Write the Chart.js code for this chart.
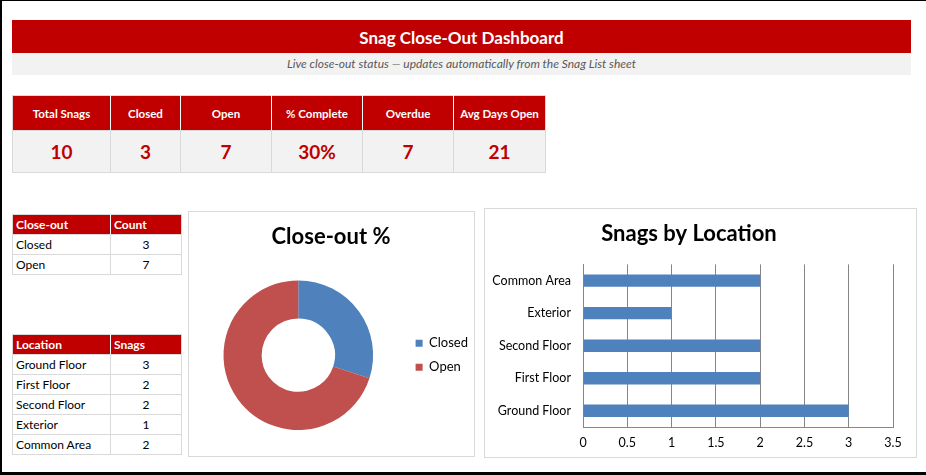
<!DOCTYPE html>
<html>
<head>
<meta charset="utf-8">
<script src="https://cdn.jsdelivr.net/npm/chart.js@4.4.1/dist/chart.umd.min.js"></script>
<style>
  html,body{margin:0;padding:0;background:#fff;}
  body{width:926px;height:475px;position:relative;overflow:hidden;font-family:Lato,"Open Sans",sans-serif;}
  .frameL{position:absolute;left:0;top:0;width:2px;height:475px;background:#000;}
  .frameT{position:absolute;left:0;top:0;width:926px;height:1px;background:#000;}
  .frameB{position:absolute;left:0;top:472px;width:926px;height:3px;background:#000;}
  .titlebar{position:absolute;left:12px;top:20px;width:899px;height:33px;background:#C00000;color:#fff;font-weight:bold;font-size:17px;line-height:35px;text-align:center;}
  .subbar{position:absolute;left:12px;top:53px;width:899px;height:22px;background:#F2F2F2;color:#595959;font-style:italic;font-size:12px;line-height:22px;text-align:center;}
  table{border-collapse:collapse;position:absolute;}
  .kpi{left:12px;top:95px;}
  .kpi th{background:#C00000;color:#fff;font-size:11.5px;font-weight:bold;height:34px;padding:0;border:1px solid #D9D9D9;border-left-color:#fff;border-right-color:#fff;text-align:center;}
  .kpi th:first-child{border-left-color:#D9D9D9;}
  .kpi th:last-child{border-right-color:#D9D9D9;}
  .kpi td{background:#F2F2F2;color:#C00000;font-size:19px;font-weight:bold;height:41px;padding:0;border:1px solid #D9D9D9;text-align:center;}
  .small th{background:#C00000;color:#fff;font-size:12px;font-weight:bold;text-align:left;height:19px;padding:0 0 0 3px;border:1px solid #D9D9D9;border-right-color:#fff;}
  .small th:last-child{border-right-color:#D9D9D9;}
  .small td{font-size:12px;color:#000;height:19px;padding:0 0 0 3px;border:1px solid #D9D9D9;}
  .small td.n{text-align:center;padding:0;}
  .box{position:absolute;border:1px solid #D9D9D9;box-sizing:border-box;background:#fff;}
  .box canvas{position:absolute;left:0;top:0;}
</style>
</head>
<body>
<div class="frameL"></div><div class="frameT"></div><div class="frameB"></div>
<div class="titlebar">Snag Close-Out Dashboard</div>
<div class="subbar">Live close-out status — updates automatically from the Snag List sheet</div>

<table class="kpi" id="kpi"></table>
<table class="small" id="closeTbl" style="left:12px;top:214px;"></table>
<table class="small" id="locTbl" style="left:12px;top:334px;"></table>

<div class="box" style="left:188px;top:211px;width:287px;height:246px;"><canvas id="donut" width="294" height="244" style="left:-5px;"></canvas></div>
<div class="box" style="left:484px;top:208px;width:433px;height:250px;"><canvas id="bar" width="431" height="248"></canvas></div>

<script>
const kpiLabels = ["Total Snags","Closed","Open","% Complete","Overdue","Avg Days Open"];
const kpiValues = ["10","3","7","30%","7","21"];
const kpiWidths = [98,70,91,91,91,92];

const statusLabels = ["Closed","Open"];
const statusCounts = [3,7];

const locationLabels = ["Ground Floor","First Floor","Second Floor","Exterior","Common Area"];
const locationCounts = [3,2,2,1,2];

const FONT = "Lato, 'Open Sans', sans-serif";
Chart.defaults.font.family = FONT;

// KPI table
(function(){
  const t = document.getElementById('kpi');
  let h = '<tr>' + kpiLabels.map((l,i)=>`<th style="width:${kpiWidths[i]-1}px">${l}</th>`).join('') + '</tr>';
  h += '<tr>' + kpiValues.map(v=>`<td>${v}</td>`).join('') + '</tr>';
  t.innerHTML = h;
})();
function smallTable(id, h1, h2, labels, values){
  const t = document.getElementById(id);
  let h = `<tr><th style="width:94px">${h1}</th><th style="width:67px">${h2}</th></tr>`;
  labels.forEach((l,i)=>{ h += `<tr><td>${l}</td><td class="n">${values[i]}</td></tr>`; });
  t.innerHTML = h;
}
smallTable('closeTbl','Close-out','Count',statusLabels,statusCounts);
smallTable('locTbl','Location','Snags',locationLabels,locationCounts);

// shift the doughnut title so it is centred on the whole chart box, not the padded layout region
const titleShift = {
  id:'titleShift',
  afterLayout(chart){ if (chart.titleBlock) { chart.titleBlock.left -= 8; } }
};

new Chart(document.getElementById('donut'), {
  type:'doughnut',
  data:{labels:statusLabels, datasets:[{data:statusCounts, backgroundColor:['#4F81BD','#C0504D'], borderWidth:0}]},
  options:{
    responsive:false, animation:false, devicePixelRatio:1,
    cutout:'49%',
    layout:{padding:{left:8,right:0,top:0,bottom:26}},
    plugins:{
      title:{display:true,text:'Close-out %',color:'#000',font:{size:22,weight:'bold',family:FONT},padding:{top:12,bottom:30}},
      legend:{position:'right',fullSize:false,labels:{boxWidth:7,boxHeight:7,color:'#000',font:{size:13,family:FONT},padding:11}},
      tooltip:{enabled:false}
    }
  },
  plugins:[titleShift]
});

new Chart(document.getElementById('bar'), {
  type:'bar',
  data:{labels:locationLabels, datasets:[{data:locationCounts, backgroundColor:'#4F81BD', borderWidth:0, barPercentage:0.38, categoryPercentage:1}]},
  options:{
    indexAxis:'y', responsive:false, animation:false, devicePixelRatio:1,
    layout:{padding:{left:0,right:23,top:0,bottom:0}},
    plugins:{
      title:{display:true,text:'Snags by Location',color:'#000',font:{size:22,weight:'bold',family:FONT},padding:{top:12,bottom:17}},
      legend:{display:false}, tooltip:{enabled:false}
    },
    scales:{
      y:{reverse:true, grid:{display:false,drawTicks:false}, border:{color:'#868686'},
         ticks:{color:'#000',font:{size:12.5,family:FONT},padding:12},
         afterFit(s){s.width=98;}},
      x:{min:0,max:3.5, grid:{color:'#868686',drawTicks:false}, border:{color:'#868686'},
         ticks:{stepSize:0.5,color:'#000',font:{size:12.5,family:FONT},padding:8,
                callback:(v)=>String(Math.round(v*10)/10)},
         afterFit(s){s.height=30;}}
    }
  }
});
</script>
</body>
</html>
